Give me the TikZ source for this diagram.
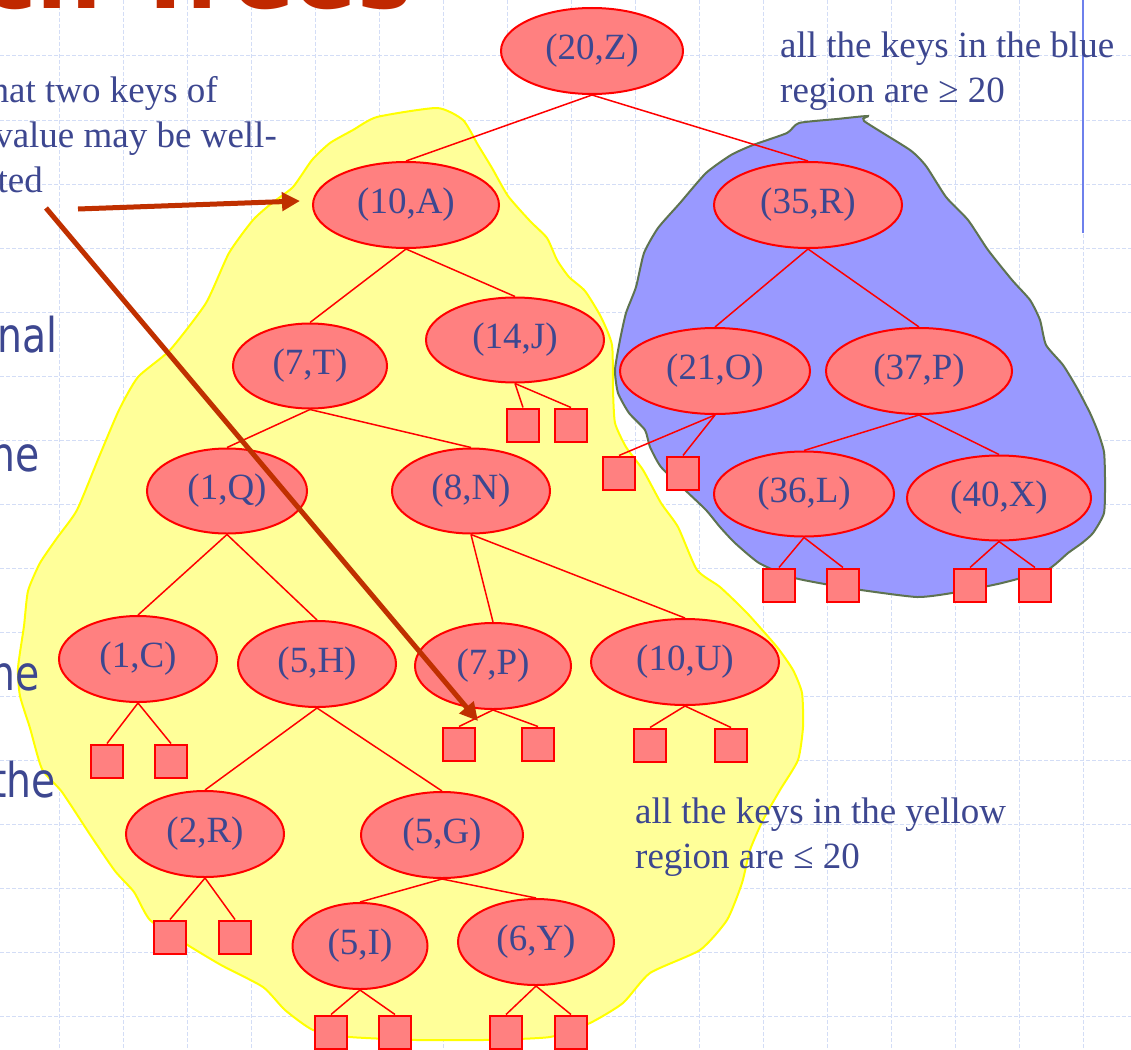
\documentclass[tikz,border=0pt]{standalone}
\usepackage{fontspec}
\setmainfont{Liberation Serif}
\newfontfamily\sansf{DejaVu Sans}
\newfontfamily\narrowsans{DejaVu Sans}[FakeStretch=0.82]
\usetikzlibrary{shapes.geometric,arrows.meta}
\definecolor{nodefill}{HTML}{FF8080}
\definecolor{txtblue}{HTML}{3D4790}
\definecolor{yfill}{HTML}{FFFF99}
\definecolor{yline}{HTML}{FFFF00}
\definecolor{bfill}{HTML}{9999FF}
\definecolor{bline}{HTML}{5E7350}
\definecolor{gridc}{HTML}{D3DDF6}
\definecolor{arrowc}{HTML}{C03000}
\definecolor{titlec}{HTML}{C02800}
\definecolor{vlinec}{HTML}{6E80EC}
\tikzset{
  kv/.style={ellipse, draw=red, fill=nodefill, line width=2pt, inner sep=0pt, text=txtblue, font=\fontsize{37}{44}\selectfont},
  leaf/.style={rectangle, draw=red, fill=nodefill, line width=2pt, minimum width=32pt, minimum height=33pt, inner sep=0pt},
  link/.style={draw=red, line width=1.5pt},
  pointer/.style={draw=arrowc, line width=5pt, -{Triangle[length=18pt,width=18pt]}},
  serifnote/.style={inner sep=0pt, text=txtblue, font=\fontsize{37}{44}\selectfont},
  sansnote/.style={inner sep=0pt, text=txtblue, font=\narrowsans\fontsize{48}{54}\selectfont},
  gridline/.style={draw=gridc, line width=1pt, dash pattern=on 4pt off 2pt},
}
\begin{document}
\begin{tikzpicture}[x=1pt,y=-1pt]
\useasboundingbox (0,0) rectangle (1131,1049);
\fill[white] (0,0) rectangle (1131,1049);
% grid
\foreach \gx in {59,123,...,1083} \draw[gridline] (\gx,0) -- (\gx,1049);
\foreach \gy in {56,120,...,1016} \draw[gridline] (0,\gy) -- (1131,\gy);
\draw[draw=vlinec, line width=2pt] (1083,0) -- (1083,233);
% title (mostly cropped)
\node[anchor=base east, inner sep=0pt, text=titlec, font=\sansf\bfseries\fontsize{92}{100}\selectfont] (title) at (412,9) {Search Trees};
% yellow region
\draw[fill=yfill, draw=yline, line width=2pt] plot[smooth cycle, tension=0.35] coordinates {
(437,108) (463,120) (478,145) (492,168) (508,196) (530,221) (547,238) (557,260) (569,277) (585,291) (601,317) (612,345) (613,390) (615,423) (626,447) (643,470) (661,503) (678,527) (697,570) (720,587) (747,613) (777,647) (793,670) (802,693) (803,727) (798,760) (780,790) (763,820) (750,850) (742,883) (727,920) (700,950) (650,973) (623,1003) (590,1023) (550,1037) (483,1040) (417,1040) (350,1037) (313,1030) (285,1010) (263,987) (221,965) (186,944) (150,920) (134,892) (115,871) (91,836) (62,792) (42,769) (30,728) (20,696) (18,668) (24,626) (28,591) (40,563) (57,538) (77,510) (99,457) (119,410) (138,377) (170,350) (206,303) (229,253) (253,220) (272,203) (293,187) (312,160) (330,143) (353,130) (377,117)};
% blue region
\draw[fill=bfill, draw=bline, line width=2pt] plot[smooth cycle, tension=0.35] coordinates {
(799,123) (837,119) (868,116) (864,121) (910,150) (926,166) (946,197) (968,220) (988,250) (1012,280) (1030,300) (1040,320) (1046,345) (1063,365) (1077,388) (1090,413) (1098,432) (1104,452) (1105,480) (1104,513) (1093,533) (1082,543) (1068,553) (1047,570) (1002,583) (952,593) (917,597) (861,590) (819,583) (791,577) (759,563) (735,543) (720,527) (706,510) (685,490) (661,467) (650,447) (645,430) (629,413) (618,393) (615,370) (620,340) (626,313) (636,287) (644,253) (658,228) (680,203) (706,173) (731,155) (753,145) (787,133)};
% internal nodes
\node[kv, minimum width=182pt, minimum height=86pt] (Z) at (592,51) {(20,Z)};
\node[kv, minimum width=186pt, minimum height=86pt] (A) at (406,205) {(10,A)};
\node[kv, minimum width=188pt, minimum height=86pt] (R35) at (808,205) {(35,R)};
\node[kv, minimum width=154pt, minimum height=85pt] (T) at (310,366) {(7,T)};
\node[kv, minimum width=178pt, minimum height=85pt] (J) at (515,340) {(14,J)};
\node[kv, minimum width=190pt, minimum height=86pt] (O) at (715,371) {(21,O)};
\node[kv, minimum width=186pt, minimum height=86pt] (P37) at (919,371) {(37,P)};
\node[kv, minimum width=160pt, minimum height=85pt] (Q) at (227,491) {(1,Q)};
\node[kv, minimum width=158pt, minimum height=85pt] (N) at (471,491) {(8,N)};
\node[kv, minimum width=180pt, minimum height=85pt] (L) at (804,494) {(36,L)};
\node[kv, minimum width=184pt, minimum height=85pt] (X) at (999,498) {(40,X)};
\node[kv, minimum width=158pt, minimum height=86pt] (C) at (138,659) {(1,C)};
\node[kv, minimum width=158pt, minimum height=86pt] (H) at (317,664) {(5,H)};
\node[kv, minimum width=156pt, minimum height=86pt] (P7) at (493,666) {(7,P)};
\node[kv, minimum width=188pt, minimum height=86pt] (U) at (685,662) {(10,U)};
\node[kv, minimum width=158pt, minimum height=86pt] (R2) at (205,834) {(2,R)};
\node[kv, minimum width=162pt, minimum height=86pt] (G) at (442,835) {(5,G)};
\node[kv, minimum width=135pt, minimum height=86pt] (I) at (360,946) {(5,I)};
\node[kv, minimum width=156pt, minimum height=86pt] (Y) at (536,942) {(6,Y)};
% leaves
\node[leaf] (J1) at (523,425) {};
\node[leaf] (J2) at (571,425) {};
\node[leaf] (O1) at (619,473) {};
\node[leaf] (O2) at (683,473) {};
\node[leaf] (C1) at (107,761) {};
\node[leaf] (C2) at (171,761) {};
\node[leaf] (P71) at (459,744) {};
\node[leaf] (P72) at (538,744) {};
\node[leaf] (U1) at (650,745) {};
\node[leaf] (U2) at (731,745) {};
\node[leaf] (R21) at (170,937) {};
\node[leaf] (R22) at (235,937) {};
\node[leaf] (I1) at (331,1032) {};
\node[leaf] (I2) at (395,1032) {};
\node[leaf] (Y1) at (506,1032) {};
\node[leaf] (Y2) at (571,1032) {};
\node[leaf] (L1) at (779,585) {};
\node[leaf] (L2) at (843,585) {};
\node[leaf] (X1) at (970,585) {};
\node[leaf] (X2) at (1035,585) {};
% edges
\draw[link] (Z.south) -- (A.north);
\draw[link] (Z.south) -- (R35.north);
\draw[link] (A.south) -- (T.north);
\draw[link] (A.south) -- (J.north);
\draw[link] (R35.south) -- (O.north);
\draw[link] (R35.south) -- (P37.north);
\draw[link] (T.south) -- (Q.north);
\draw[link] (T.south) -- (N.north);
\draw[link] (P37.south) -- (L.north);
\draw[link] (P37.south) -- (X.north);
\draw[link] (Q.south) -- (C.north);
\draw[link] (Q.south) -- (H.north);
\draw[link] (N.south) -- (P7.north);
\draw[link] (N.south) -- (U.north);
\draw[link] (H.south) -- (R2.north);
\draw[link] (H.south) -- (G.north);
\draw[link] (G.south) -- (I.north);
\draw[link] (G.south) -- (Y.north);
\draw[link] (J.south) -- (J1.north);
\draw[link] (J.south) -- (J2.north);
\draw[link] (O.south) -- (O1.north);
\draw[link] (O.south) -- (O2.north);
\draw[link] (C.south) -- (C1.north);
\draw[link] (C.south) -- (C2.north);
\draw[link] (P7.south) -- (P71.north);
\draw[link] (P7.south) -- (P72.north);
\draw[link] (U.south) -- (U1.north);
\draw[link] (U.south) -- (U2.north);
\draw[link] (R2.south) -- (R21.north);
\draw[link] (R2.south) -- (R22.north);
\draw[link] (I.south) -- (I1.north);
\draw[link] (I.south) -- (I2.north);
\draw[link] (Y.south) -- (Y1.north);
\draw[link] (Y.south) -- (Y2.north);
\draw[link] (L.south) -- (L1.north);
\draw[link] (L.south) -- (L2.north);
\draw[link] (X.south) -- (X1.north);
\draw[link] (X.south) -- (X2.north);
% texts
\node[serifnote, anchor=base east] (n1) at (218,102) {hat two keys of};
\node[serifnote, anchor=base east] (n2) at (277,147) {value may be well-};
\node[serifnote, anchor=base east] (n3) at (43,192) {ted};
\node[serifnote, anchor=base west] (b1) at (780,57) {all the keys in the blue};
\node[serifnote, anchor=base west] (b2) at (780,102) {region are ≥ 20};
\node[serifnote, anchor=base west] (y1) at (635,823) {all the keys in the yellow};
\node[serifnote, anchor=base west] (y2) at (635,868) {region are ≤ 20};
\node[sansnote, anchor=base east] (s1) at (58,352) {nal};
\node[sansnote, anchor=base east] (s2) at (40,471) {ne};
\node[sansnote, anchor=base east] (s3) at (40,690) {ne};
\node[sansnote, anchor=base east] (s4) at (56,797) {the};
% arrows
\coordinate (a1s) at (78,209);
\coordinate (a1e) at (300,201);
\coordinate (a2s) at (46,208);
\coordinate (a2e) at (478,721);
\draw[pointer] (a1s) -- (a1e);
\draw[pointer] (a2s) -- (a2e);
\end{tikzpicture}
\end{document}
